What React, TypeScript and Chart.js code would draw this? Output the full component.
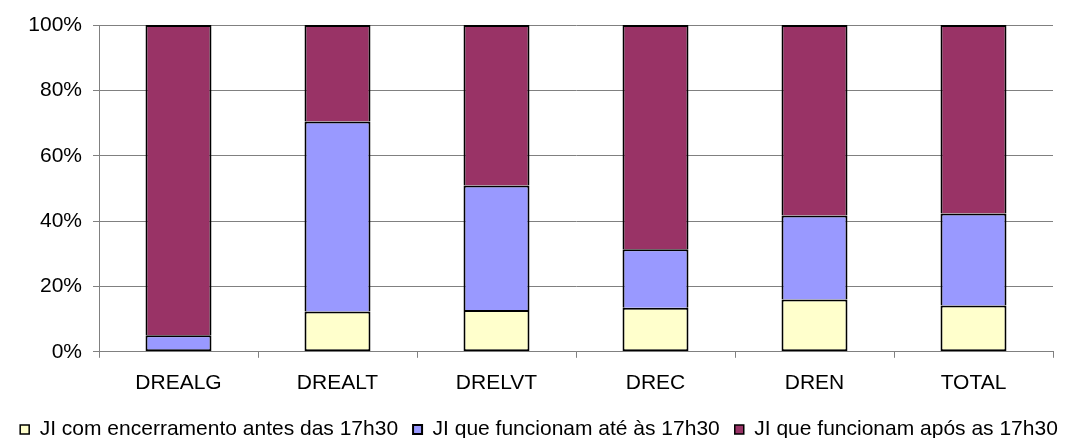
import React, { useEffect, useRef } from "react";
import { Chart, registerables } from "chart.js";

Chart.register(...registerables);

const categories = ["DREALG", "DREALT", "DRELVT", "DREC", "DREN", "TOTAL"];
const seriesNames = [
  "JI com encerramento antes das 17h30",
  "JI que funcionam até às 17h30",
  "JI que funcionam após as 17h30",
];
const antes = [0, 12.3, 12.8, 13.5, 16.0, 14.2];
const ate = [5.1, 58.2, 38.1, 17.9, 25.7, 28.1];
const apos = [94.9, 29.5, 49.1, 68.6, 58.3, 57.7];
const yTicks = [0, 20, 40, 60, 80, 100];
const colors = ["#FFFFCC", "#9999FF", "#993366"];

export default function App() {
  const ref = useRef<HTMLCanvasElement | null>(null);
  useEffect(() => {
    if (!ref.current) return;
    const family = "'Liberation Sans', Arial, sans-serif";
    const font = { family, size: 21 };
    const values = [antes, ate, apos];
    const isBottom = (ds: number, idx: number) => {
      for (let k = 0; k < values.length; k++) {
        if (values[k][idx] > 0) return k === ds;
      }
      return false;
    };
    const chart = new Chart(ref.current, {
      type: "bar",
      data: {
        labels: categories,
        datasets: seriesNames.map((n, i) => ({
          label: n,
          data: values[i],
          backgroundColor: colors[i],
          borderColor: "#000000",
          borderWidth: (ctx: any) =>
            ctx.type === "data"
              ? { top: 2, left: 2, right: 2, bottom: isBottom(i, ctx.dataIndex) ? 2 : 0 }
              : 1,
          borderSkipped: false,
          barPercentage: 0.415,
          categoryPercentage: 1,
        })),
      },
      options: {
        animation: false,
        responsive: false,
        maintainAspectRatio: false,
        layout: { padding: { top: 25, right: 0, bottom: 0, left: 0 } },
        plugins: {
          tooltip: { enabled: false },
          legend: {
            position: "bottom",
            labels: {
              color: "#000",
              font,
              boxWidth: 9,
              boxHeight: 9,
              padding: 15,
            },
          },
        },
        scales: {
          x: {
            stacked: true,
            grid: {
              offset: true,
              drawOnChartArea: false,
              drawTicks: true,
              tickLength: 6,
              color: "#808080",
            },
            border: { color: "#808080", width: 1 },
            ticks: { color: "#000", font, padding: 13, maxRotation: 0 },
            afterFit: (s: any) => {
              s.height = s.height - 5;
            },
          },
          y: {
            stacked: true,
            min: 0,
            max: 100,
            afterBuildTicks: (s: any) => {
              s.ticks = yTicks.map((v) => ({ value: v }));
            },
            afterFit: (s: any) => {
              s.width = 99;
              s.paddingTop = 0;
            },
            grid: { color: "#808080", tickLength: 6, drawTicks: true },
            border: { color: "#808080", width: 1 },
            ticks: {
              color: "#000",
              font,
              padding: 11,
              callback: (v: any) => v + "%",
            },
          },
          yRight: {
            position: "right",
            display: true,
            grid: { display: false },
            border: { display: false },
            ticks: { display: false },
            afterFit: (s: any) => {
              s.width = 25;
              s.paddingTop = 0;
            },
          },
        },
      },
    });
    return () => chart.destroy();
  }, []);
  return (
    <div style={{ margin: -8, height: 446, overflow: "hidden" }}>
      <canvas ref={ref} width={1078} height={450} style={{ display: "block" }} />
    </div>
  );
}
